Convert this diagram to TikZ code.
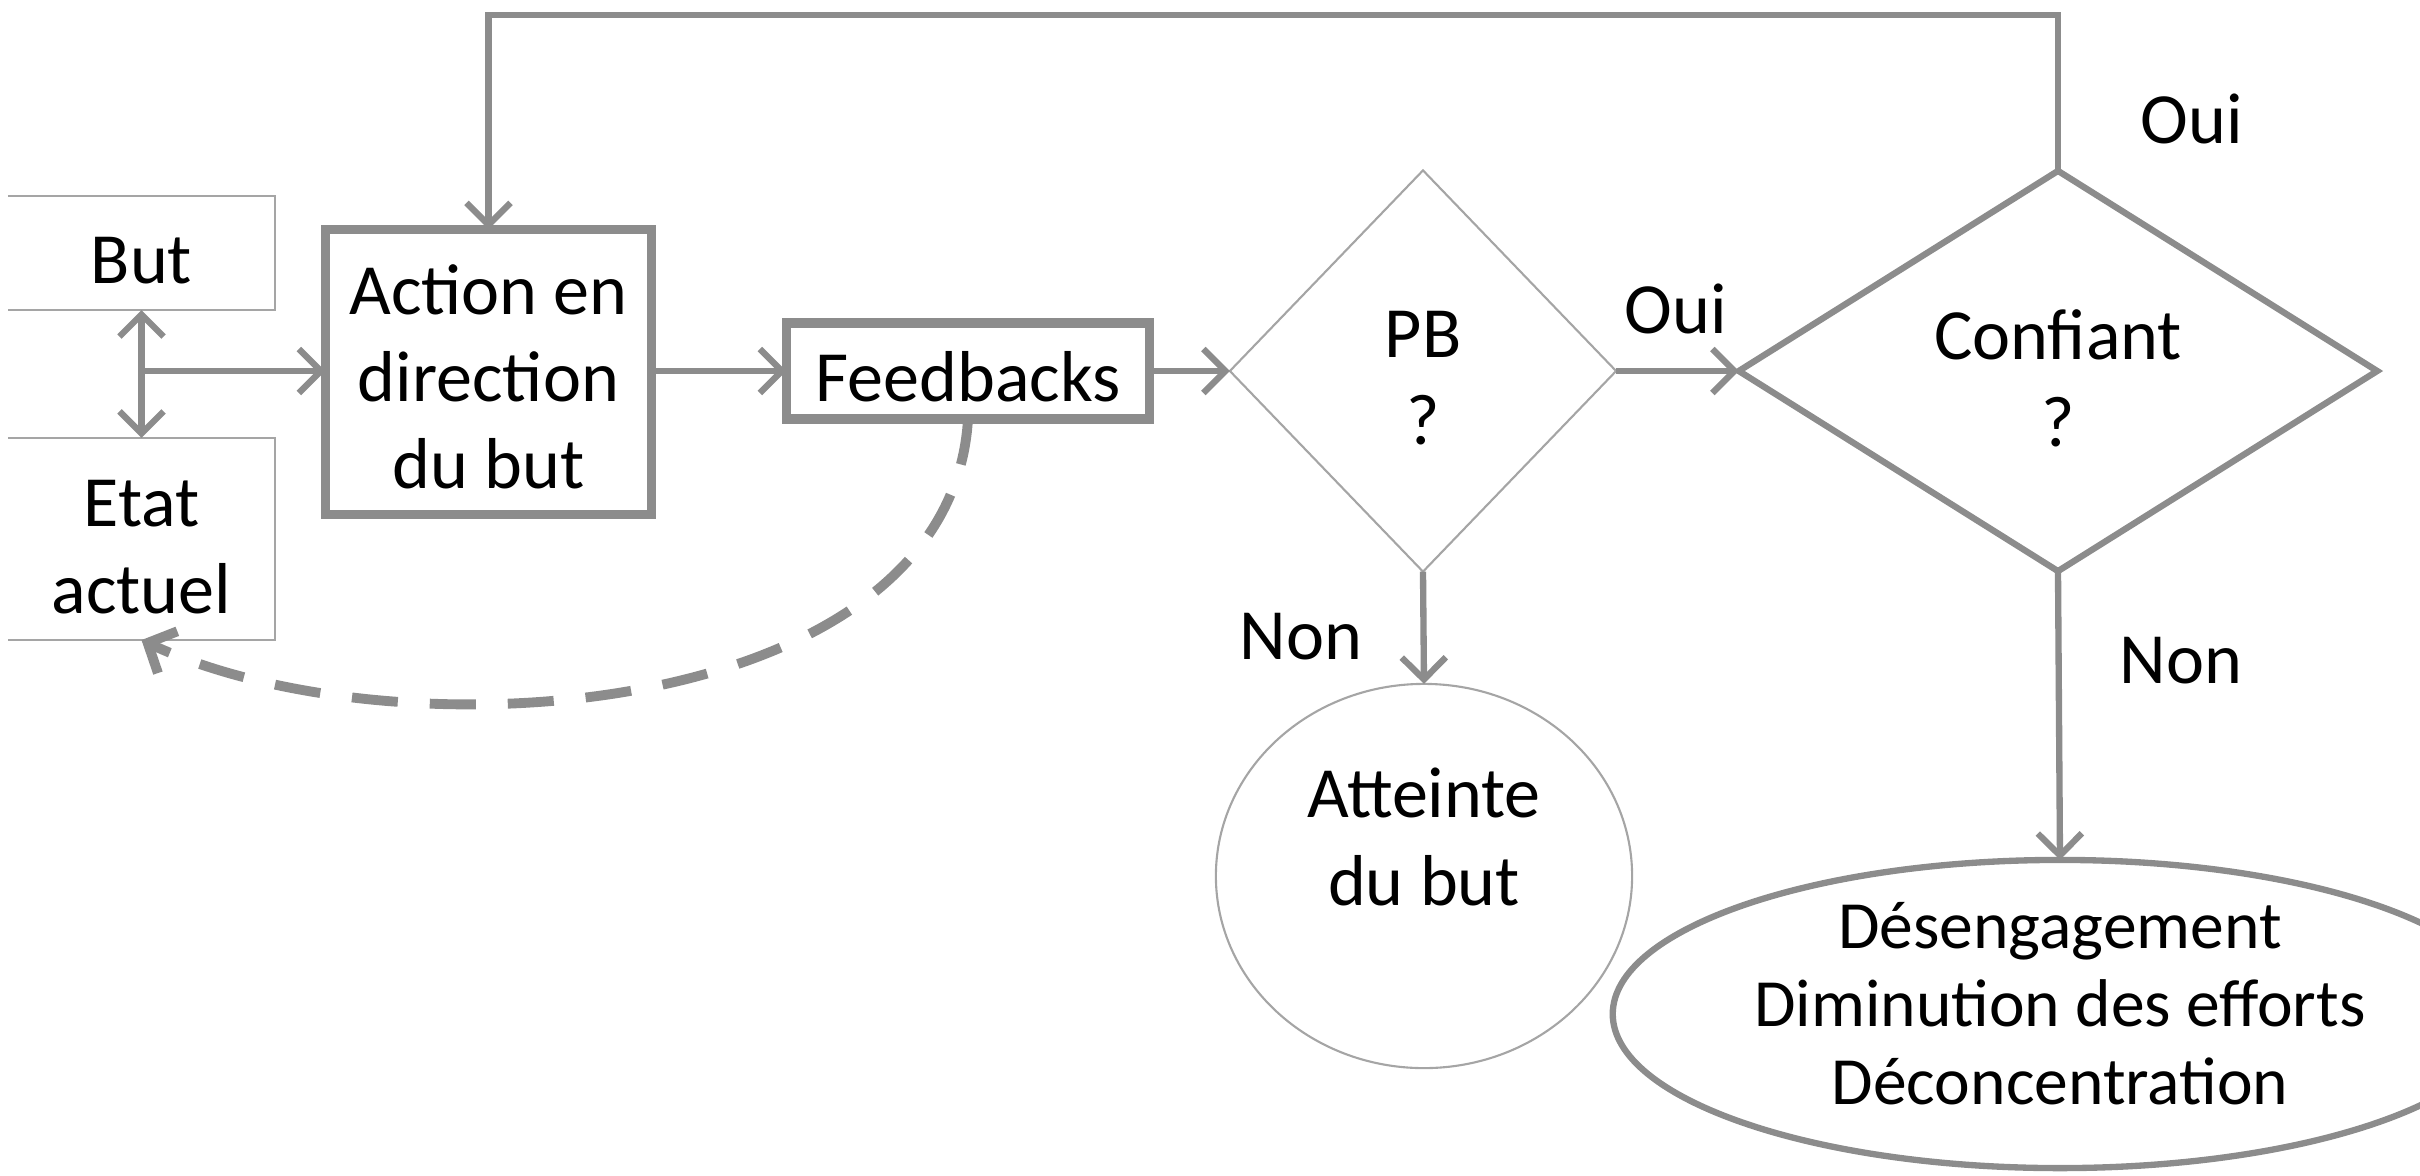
\documentclass[tikz,border=0pt]{standalone}
\usepackage{fontspec}
\setmainfont{Carlito}
\usetikzlibrary{arrows.meta,shapes.geometric}
\definecolor{lg}{RGB}{140,140,140}
\definecolor{lgl}{RGB}{165,165,165}
\begin{document}
\begin{tikzpicture}[x=0.01cm,y=-0.01cm,
  every node/.style={font=\fontsize{20.5}{24.8}\selectfont, align=center, inner sep=0pt, outer sep=0pt},
  thinbox/.style={draw=lgl, line width=0.6pt},
  thickbox/.style={draw=lg, line width=2.6pt},
  medbox/.style={draw=lg, line width=1.8pt},
  tip/.tip={Straight Barb[length=0.22cm,width=0.44cm]},
  arr/.style={draw=lg, line width=1.8pt, -tip},
  dasharr/.style={draw=lg, line width=2.8pt, dash pattern=on 0.46cm off 0.32cm, -{Straight Barb[length=0.22cm,width=0.46cm]}},
]
\useasboundingbox (0,0) rectangle (2420,1175);

% nodes
\node[minimum width=2.67cm, minimum height=1.14cm] (but) at (141.5,253) {};
\node (butt) at (141.5,261) {But};
\draw[thinbox] (but.north west) -- (but.north east) -- (but.south east) -- (but.south west);
\node[minimum width=2.67cm, minimum height=2.02cm] (etat) at (141.5,539) {};
\node (etatt) at (141.5,547) {Etat\\actuel};
\draw[thinbox] (etat.north west) -- (etat.north east) -- (etat.south east) -- (etat.south west);

\node[thickbox, minimum width=3.26cm, minimum height=2.85cm] (action) at (488.5,372) {};
\node (actiont) at (488.5,377) {Action en\\direction\\du but};
\node[thickbox, minimum width=3.63cm, minimum height=0.96cm] (fb) at (968,371) {};
\node (fbt) at (968,377) {Feedbacks};

\node[thinbox, diamond, minimum width=3.86cm, minimum height=4.01cm] (pb) at (1423,371) {};
\node (pbt) at (1423,378) {PB\\?};
\node[medbox, diamond, minimum width=6.38cm, minimum height=4.00cm] (conf) at (2058,371) {};
\node (conft) at (2058,378) {Confiant\\?};

\node[thinbox, ellipse, minimum width=4.16cm, minimum height=3.84cm] (att) at (1424,876) {};
\node (attt) at (1424,837) {Atteinte\\du but};
\node[medbox, ellipse, minimum width=8.94cm, minimum height=3.08cm] (des) at (2060,1014) {};
\node[font=\fontsize{19.2}{22.2}\selectfont] (dest) at (2060,1004) {Désengagement\\Diminution des efforts\\Déconcentration};

% labels
\node (oui1) at (1676,309) {Oui};
\node (oui2) at (2192,119) {Oui};
\node (non1) at (1301,637) {Non};
\node (non2) at (2181,661) {Non};

% connectors
\coordinate (fork) at (141.5,371);
\coordinate (top) at (0,15);
\draw[draw=lg, line width=1.8pt, tip-tip] (but.south) -- (etat.north);
\draw[arr] (fork) -- (fork -| action.west);
\draw[arr] (action.east |- fb.west) -- (fb.west);
\draw[arr] (fb.east) -- (pb.west);
\draw[arr] (pb.east) -- (conf.west);
\draw[arr] (pb.south) -- (att.north);
\draw[arr] (conf.south) -- (des.north);
\draw[arr] (conf.north) |- (top -| action.north) -- (action.north);
\draw[dasharr] (fb.south) .. controls (950,720) and (400,760) .. (etat.south);
\end{tikzpicture}
\end{document}
